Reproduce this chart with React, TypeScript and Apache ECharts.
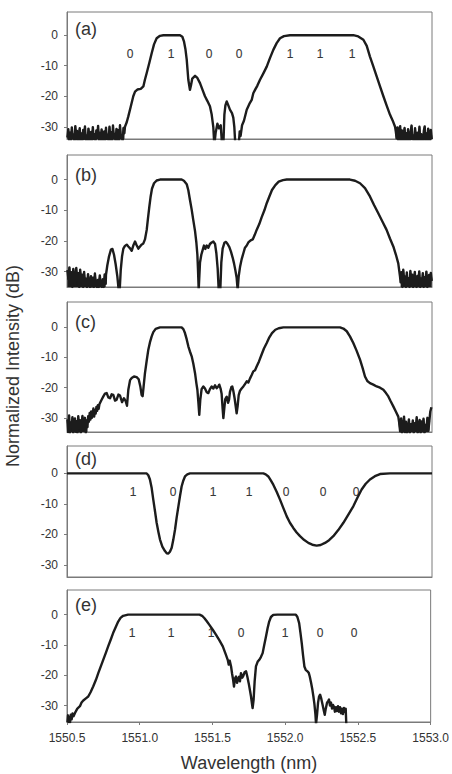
import React, { useEffect, useRef } from "react";
import * as echarts from "echarts";

// Wavelength axis (nm) and intensity tick values (dB)
const WL_MIN = 1550.5;
const WL_MAX = 1553.0;
const xTickValues = [1550.5, 1551.0, 1551.5, 1552.0, 1552.5, 1553.0];
const yTickValues = [0, -10, -20, -30];
const BIT_LEVEL = -6;

type Pt = [number, number];
type Noise = { from: number; to: number; values: number[] };

// ---------- (a) ----------
const aNoiseLeft: Noise = {
  from: 1550.503, to: 1550.893,
  values: [-33.5, -30.8, -34.6, -31.9, -35, -30.2, -33.8, -32.5, -35, -29.8, -34.2, -31.4, -35, -33, -30.5, -34.8, -32.2, -35, -31, -33.9, -29.9, -34.5, -32.8, -35, -30.6, -33.2, -34.9, -31.7, -35, -30.1, -34, -32.4, -35, -31.2, -33.6, -29.7, -34.7, -32, -35, -30.9, -33.4, -34.8, -31.5, -35, -30.3, -33.9, -32.6, -35, -30, -34.3, -31.8, -35, -29.6, -33.7, -32.3, -35, -30.7, -34.4, -31.1, -35, -29.5, -33.5, -32.7, -35, -30.4, -32.1],
};
const aTrace: Pt[] = [
  [1550.897, -30], [1550.909, -28.5], [1550.92, -26.6], [1550.936, -23.5], [1550.954, -20], [1550.966, -18.5],
  [1550.982, -17.8], [1551.005, -17.6], [1551.023, -16.8], [1551.034, -14.5], [1551.046, -12.4], [1551.064, -9],
  [1551.08, -5.9], [1551.096, -3], [1551.114, -1], [1551.137, -0.2], [1551.16, 0], [1551.274, 0], [1551.29, -0.5],
  [1551.301, -2], [1551.311, -4.5], [1551.32, -8], [1551.331, -14.6], [1551.342, -17.9], [1551.349, -16.5],
  [1551.358, -14.2], [1551.377, -13.3], [1551.393, -14], [1551.411, -15.7], [1551.429, -18], [1551.445, -20],
  [1551.461, -21.5], [1551.479, -23.3], [1551.491, -26], [1551.502, -30], [1551.509, -36], [1551.518, -32],
  [1551.53, -29], [1551.541, -30.5], [1551.553, -29.5], [1551.562, -36], [1551.571, -36], [1551.578, -26],
  [1551.585, -23], [1551.594, -21.7], [1551.605, -23], [1551.616, -24.4], [1551.63, -25.5], [1551.639, -27],
  [1551.646, -30], [1551.653, -36], [1551.676, -36], [1551.683, -31.5], [1551.689, -33], [1551.699, -29.5],
  [1551.712, -28], [1551.731, -24.4], [1551.749, -22.5], [1551.765, -21.2], [1551.776, -19], [1551.788, -17.9],
  [1551.804, -16.5], [1551.822, -14.6], [1551.845, -12.5], [1551.868, -10.3], [1551.89, -7.5], [1551.913, -4.8],
  [1551.936, -2.6], [1551.959, -1], [1551.986, -0.3], [1552.027, 0], [1552.461, 0], [1552.495, -0.4],
  [1552.53, -1.5], [1552.553, -3.5], [1552.575, -7], [1552.598, -10.2], [1552.621, -13.5], [1552.644, -16.8],
  [1552.667, -20], [1552.689, -23], [1552.712, -26], [1552.731, -28], [1552.747, -30],
];
const aNoiseRight: Noise = {
  from: 1552.752, to: 1552.998,
  values: [-31.5, -33.8, -30.2, -35, -32.5, -29.8, -34.6, -31.2, -35, -33, -30.4, -34.9, -32.1, -35, -30.8, -33.7, -35, -31.6, -29.6, -34.2, -32.8, -35, -30.5, -33.3, -35, -31.9, -34.5, -30, -35, -32.4, -33.9, -35, -31.3, -29.9, -34.7, -32.2, -35, -30.6, -33.5, -35, -31, -34],
};
const aBits = ["0", "1", "0", "0", "1", "1", "1"];
const aBitWl = [1550.93, 1551.21, 1551.47, 1551.68, 1552.03, 1552.23, 1552.45];

// ---------- (b) ----------
const bNoiseLeft: Noise = {
  from: 1550.503, to: 1550.765,
  values: [-29.5, -32.4, -28.6, -33.8, -30.2, -35, -29.1, -31.7, -34.5, -28.8, -32.9, -30.5, -35, -29.4, -33.2, -31, -35, -30.1, -34.1, -32.3, -35, -30.8, -33.6, -35, -31.5, -34.8, -32, -35, -30.6, -33.9, -35, -32.7, -35, -31.2, -34.4, -35, -32.5, -35, -30.9, -34],
};
const bTrace: Pt[] = [
  [1550.767, -31], [1550.776, -28], [1550.788, -25], [1550.801, -22.8], [1550.811, -22.6], [1550.822, -24.5],
  [1550.833, -27.5], [1550.845, -31.6], [1550.854, -36], [1550.861, -36], [1550.868, -29.5], [1550.877, -25],
  [1550.886, -22.5], [1550.897, -21.6], [1550.909, -21.2], [1550.92, -21.8], [1550.932, -22.4], [1550.943, -23.2],
  [1550.954, -21.5], [1550.966, -20.2], [1550.977, -21.4], [1550.989, -22.5], [1551.0, -21.8], [1551.011, -21.2],
  [1551.023, -20.8], [1551.034, -19.5], [1551.046, -16.4], [1551.055, -12.5], [1551.064, -8.8], [1551.073, -5.5],
  [1551.082, -3], [1551.096, -1.2], [1551.114, -0.3], [1551.137, 0], [1551.285, 0], [1551.301, -0.4],
  [1551.32, -1.5], [1551.331, -3.5], [1551.342, -6.6], [1551.354, -9.8], [1551.365, -13.2], [1551.377, -16.8],
  [1551.386, -20.5], [1551.393, -24.5], [1551.397, -29], [1551.402, -36], [1551.406, -36], [1551.411, -27],
  [1551.42, -24.5], [1551.429, -23], [1551.438, -21.5], [1551.447, -22.6], [1551.457, -21.5], [1551.468, -22.2],
  [1551.479, -21], [1551.491, -20.5], [1551.502, -20.2], [1551.514, -21], [1551.523, -24], [1551.532, -29],
  [1551.539, -36], [1551.55, -36], [1551.557, -27], [1551.566, -22.5], [1551.578, -20.6], [1551.589, -20.3],
  [1551.6, -21], [1551.612, -22], [1551.623, -23.5], [1551.635, -25.5], [1551.644, -27.3], [1551.653, -29.5],
  [1551.662, -32], [1551.669, -36], [1551.676, -31.5], [1551.685, -28.5], [1551.696, -26], [1551.708, -24],
  [1551.719, -22.2], [1551.731, -21.5], [1551.742, -20.5], [1551.758, -19.8], [1551.772, -19.5], [1551.786, -18],
  [1551.799, -16.4], [1551.817, -14.5], [1551.833, -12.3], [1551.852, -10], [1551.868, -7.7], [1551.886, -5.5],
  [1551.904, -3.4], [1551.927, -1.8], [1551.95, -0.7], [1551.979, -0.2], [1552.005, 0], [1552.438, 0],
  [1552.473, -0.4], [1552.507, -1.2], [1552.541, -2.8], [1552.575, -5.5], [1552.603, -8.3], [1552.632, -11],
  [1552.662, -13.8], [1552.689, -16.4], [1552.712, -19.2], [1552.735, -21.8], [1552.753, -24.5], [1552.769, -27.3],
  [1552.781, -31.6],
];
const bNoiseRight: Noise = {
  from: 1552.785, to: 1552.998,
  values: [-33.5, -30.2, -35, -29.4, -33.1, -31.6, -35, -30.3, -34.2, -32.1, -35, -29.8, -33.7, -31, -35, -32.6, -30.1, -34.5, -35, -31.4, -33.2, -29.9, -35, -32.3, -34, -30.5, -35, -31.8, -33.6, -30, -35, -32.9, -31.1, -34.3, -30.4, -33],
};

// ---------- (c) ----------
const cNoiseLeft: Noise = {
  from: 1550.503, to: 1550.64,
  values: [-30.5, -34.8, -29.2, -35, -31.6, -33.2, -29.8, -35, -32.5, -30.2, -34.6, -31.1, -35, -29.5, -33.4, -30.8, -35, -31.9, -29.4, -34, -32.2, -30, -35, -30.9, -33.1],
};
const cNoiseRise: Noise = {
  from: 1550.645, to: 1550.722,
  values: [-29.5, -31.3, -28.4, -30.6, -27.9, -30, -28.8, -26.9, -29.6, -27.5, -28.6, -26.4, -27.7, -25.8, -27, -25.5],
};
const cTrace: Pt[] = [
  [1550.726, -25.1], [1550.737, -24], [1550.749, -22.9], [1550.76, -22], [1550.772, -21.8], [1550.783, -23.2],
  [1550.795, -23.5], [1550.806, -22.2], [1550.817, -22.4], [1550.829, -24.3], [1550.84, -24], [1550.852, -22.3],
  [1550.863, -22.6], [1550.877, -24.8], [1550.89, -23.5], [1550.902, -24.5], [1550.911, -26], [1550.92, -20.7],
  [1550.932, -17.5], [1550.943, -16.8], [1550.959, -16.3], [1550.977, -16.5], [1550.991, -17.2], [1551.002, -19.5],
  [1551.011, -22.4], [1551.018, -22.8], [1551.025, -19.5], [1551.034, -15.2], [1551.046, -11], [1551.057, -7.4],
  [1551.068, -5], [1551.08, -3], [1551.091, -1.6], [1551.107, -0.5], [1551.137, 0], [1551.285, 0],
  [1551.297, -0.6], [1551.308, -1.9], [1551.32, -4], [1551.331, -6.3], [1551.342, -8], [1551.354, -9.6],
  [1551.365, -12], [1551.377, -15.2], [1551.386, -18.5], [1551.393, -20.7], [1551.4, -25], [1551.406, -29],
  [1551.413, -24], [1551.422, -20.5], [1551.434, -19.6], [1551.445, -20.3], [1551.457, -21.5], [1551.468, -21.8],
  [1551.479, -20.5], [1551.491, -19.6], [1551.502, -20.3], [1551.514, -19.2], [1551.525, -20.2], [1551.537, -19.5],
  [1551.543, -19], [1551.553, -20.5], [1551.559, -22], [1551.566, -27], [1551.571, -30.1], [1551.578, -26.5],
  [1551.584, -23.8], [1551.594, -23], [1551.603, -25], [1551.61, -24], [1551.616, -21.5], [1551.626, -19.8],
  [1551.632, -19.6], [1551.639, -21], [1551.648, -23.5], [1551.655, -26], [1551.662, -28.5], [1551.669, -26],
  [1551.676, -22.5], [1551.685, -21], [1551.696, -20.3], [1551.708, -19.6], [1551.719, -18.8], [1551.731, -17.9],
  [1551.742, -18.3], [1551.753, -17], [1551.765, -15.8], [1551.776, -14.6], [1551.788, -14.2], [1551.799, -13],
  [1551.815, -11.3], [1551.833, -9], [1551.849, -7], [1551.868, -5.2], [1551.886, -3.3], [1551.904, -1.9],
  [1551.927, -0.8], [1551.95, -0.3], [1551.982, 0], [1552.37, 0], [1552.393, -0.4], [1552.416, -1.3],
  [1552.438, -3], [1552.461, -5.2], [1552.484, -7.8], [1552.507, -10.7], [1552.525, -13.5], [1552.541, -16.3],
  [1552.557, -17.8], [1552.575, -18.5], [1552.598, -19], [1552.621, -19.6], [1552.644, -20], [1552.667, -20.7],
  [1552.685, -21.8], [1552.701, -22.9], [1552.717, -24.5], [1552.735, -26.2], [1552.753, -28], [1552.769, -29.6],
];
const cNoiseRight: Noise = {
  from: 1552.775, to: 1552.982,
  values: [-31.5, -34.5, -30.2, -35, -32.8, -29.6, -34.9, -31.3, -35, -33.5, -30.5, -35, -32.1, -34.2, -30.9, -35, -31.8, -33.9, -29.8, -35, -32.6, -30.7, -35, -31.2, -34.4, -30.3, -35, -32.4, -33.3, -30, -34.1, -31],
};
const cTail: Pt[] = [[1552.988, -28], [1552.996, -26.5]];

// ---------- (d) ----------
const dTrace: Pt[] = [
  [1550.5, 0], [1551.046, 0], [1551.057, -0.6], [1551.068, -2], [1551.08, -4.8], [1551.091, -8.6],
  [1551.103, -12.5], [1551.114, -16.2], [1551.126, -19.2], [1551.137, -21.7], [1551.153, -24], [1551.171, -25.5],
  [1551.183, -26.2], [1551.194, -26.3], [1551.205, -25.7], [1551.217, -24.4], [1551.228, -21.8], [1551.24, -18.4],
  [1551.251, -14.5], [1551.263, -10.8], [1551.274, -7.4], [1551.285, -4.3], [1551.297, -2.3], [1551.308, -1],
  [1551.324, -0.3], [1551.342, 0], [1551.845, 0], [1551.861, -0.3], [1551.879, -1], [1551.895, -2.2],
  [1551.913, -3.7], [1551.936, -6], [1551.959, -8.6], [1551.982, -11.4], [1552.005, -14.1], [1552.027, -16.2],
  [1552.05, -17.9], [1552.073, -19.4], [1552.096, -20.6], [1552.123, -21.8], [1552.153, -22.8], [1552.18, -23.4],
  [1552.21, -23.7], [1552.237, -23.5], [1552.267, -22.8], [1552.295, -21.9], [1552.324, -20.6], [1552.358, -18.6],
  [1552.393, -16.2], [1552.427, -13.5], [1552.461, -10.8], [1552.489, -8], [1552.518, -5.3], [1552.546, -3.4],
  [1552.575, -2], [1552.609, -0.9], [1552.644, -0.2], [1552.712, 0], [1553.0, 0],
];
const dBits = ["1", "0", "1", "1", "0", "0", "0"];
const dBitWl = [1550.95, 1551.224, 1551.497, 1551.745, 1552.003, 1552.25, 1552.479];

// ---------- (e) ----------
const eTrace: Pt[] = [
  [1550.503, -35.5], [1550.507, -33.2], [1550.511, -35.5], [1550.516, -33.8], [1550.521, -35.5], [1550.526, -33],
  [1550.532, -34.5], [1550.538, -32.6], [1550.545, -33.5], [1550.555, -32.4], [1550.571, -31], [1550.589, -30.2],
  [1550.6, -29], [1550.612, -28.3], [1550.63, -27.6], [1550.646, -27], [1550.662, -25.6], [1550.68, -23.7],
  [1550.699, -21.5], [1550.715, -19.3], [1550.733, -17], [1550.749, -14.9], [1550.767, -12.6], [1550.783, -10.5],
  [1550.801, -8.2], [1550.817, -6.1], [1550.836, -4], [1550.852, -2.3], [1550.868, -1.1], [1550.886, -0.4],
  [1550.92, 0], [1551.411, 0], [1551.429, -0.4], [1551.445, -1.2], [1551.461, -2.2], [1551.479, -3.4],
  [1551.502, -5], [1551.525, -6.7], [1551.548, -8.5], [1551.571, -10.5], [1551.589, -12.8], [1551.605, -14.9],
  [1551.612, -16.5], [1551.619, -15.2], [1551.628, -17.1], [1551.635, -19.5], [1551.642, -21.5], [1551.648, -23.7],
  [1551.655, -21], [1551.662, -20.4], [1551.669, -22.5], [1551.676, -21.2], [1551.683, -20.5], [1551.689, -22],
  [1551.696, -19.3], [1551.705, -20.8], [1551.712, -20.2], [1551.721, -19], [1551.731, -18.7], [1551.74, -20.5],
  [1551.749, -22.6], [1551.758, -25], [1551.765, -27], [1551.772, -29.5], [1551.776, -30.8], [1551.783, -28],
  [1551.79, -22], [1551.799, -17.1], [1551.811, -15.5], [1551.822, -14.9], [1551.833, -14], [1551.845, -12.7],
  [1551.856, -10], [1551.868, -7.2], [1551.879, -4.5], [1551.89, -2.3], [1551.902, -0.8], [1551.918, -0.1],
  [1551.947, 0], [1552.073, 0], [1552.084, -0.8], [1552.096, -2.8], [1552.105, -6], [1552.114, -9.5],
  [1552.123, -13.5], [1552.132, -17.1], [1552.141, -18.2], [1552.153, -18.7], [1552.162, -19.2], [1552.169, -20.4],
  [1552.178, -22.5], [1552.187, -24.8], [1552.194, -27], [1552.201, -29.5], [1552.208, -33], [1552.212, -36],
  [1552.219, -33], [1552.226, -29], [1552.233, -27], [1552.24, -26.4], [1552.247, -27.5], [1552.256, -29.5],
  [1552.265, -31.5], [1552.272, -33], [1552.279, -31], [1552.288, -29], [1552.295, -28.5], [1552.301, -28],
  [1552.308, -30], [1552.315, -29], [1552.322, -31], [1552.329, -29.8], [1552.336, -30.5], [1552.342, -32],
  [1552.349, -30.5], [1552.356, -31.8], [1552.363, -30.2], [1552.37, -32], [1552.377, -30.5], [1552.384, -32.5],
  [1552.39, -31], [1552.397, -32.8], [1552.404, -30.8], [1552.411, -32], [1552.416, -31], [1552.42, -36],
];
const eBits = ["1", "1", "1", "0", "1", "0", "0"];
const eBitWl = [1550.946, 1551.217, 1551.488, 1551.697, 1551.996, 1552.242, 1552.472];

// Evenly spaced samples of a recorded noise floor
function samples(n: Noise): Pt[] {
  const k = n.values.length - 1;
  return n.values.map((v, i) => [n.from + ((n.to - n.from) * i) / k, v] as Pt);
}

const panelData = [
  { tag: "(a)", floor: [aNoiseLeft, aNoiseRight], line: [...samples(aNoiseLeft), ...aTrace, ...samples(aNoiseRight)], bits: aBits, bitWl: aBitWl },
  { tag: "(b)", floor: [bNoiseLeft, bNoiseRight], line: [...samples(bNoiseLeft), ...bTrace, ...samples(bNoiseRight)], bits: [] as string[], bitWl: [] as number[] },
  { tag: "(c)", floor: [cNoiseLeft, cNoiseRight], line: [...samples(cNoiseLeft), ...samples(cNoiseRise), ...cTrace, ...samples(cNoiseRight), ...cTail], bits: [] as string[], bitWl: [] as number[] },
  { tag: "(d)", floor: [] as Noise[], line: dTrace, bits: dBits, bitWl: dBitWl },
  { tag: "(e)", floor: [] as Noise[], line: eTrace, bits: eBits, bitWl: eBitWl },
];

// Panel placement (px) and visible dB window
const layout = [
  { top: 12, height: 127, yMin: -34, yMax: 7.6, tagY: 29.5 },
  { top: 155, height: 132, yMin: -35, yMax: 8, tagY: 176 },
  { top: 302, height: 130, yMin: -34.7, yMax: 8.4, tagY: 322.5 },
  { top: 446, height: 131, yMin: -34, yMax: 9, tagY: 459.5 },
  { top: 590, height: 132, yMin: -35.4, yMax: 8.1, tagY: 606 },
];

const FONT = "'Liberation Sans', Arial, Helvetica, sans-serif";
const FRAME = "#7a7a7a";
const INK = "#1c1c1c";
const TEXT = "#333333";
const LINE_W = 2.4;

export default function App() {
  const ref = useRef<HTMLDivElement>(null);

  useEffect(() => {
    if (!ref.current) return;
    const chart = echarts.init(ref.current, undefined, { renderer: "svg" });
    const last = panelData.length - 1;

    const grid = layout.map((l) => ({
      left: 67, right: 20, top: l.top, height: l.height,
      show: true, borderColor: FRAME, borderWidth: 1, backgroundColor: "transparent",
    }));

    const xAxis = layout.map((_, i) => ({
      type: "value" as const, gridIndex: i, min: WL_MIN, max: WL_MAX,
      axisLine: { show: true, onZero: false, lineStyle: { color: FRAME } },
      splitLine: { show: false },
      axisTick: { show: i === last, customValues: xTickValues, length: 3, lineStyle: { color: FRAME } },
      axisLabel: {
        show: i === last, customValues: xTickValues, margin: 10,
        color: TEXT, fontSize: 12, fontFamily: FONT,
        formatter: (v: number) => v.toFixed(1),
      },
    }));

    const yAxis = layout.map((l, i) => ({
      type: "value" as const, gridIndex: i, min: l.yMin, max: l.yMax,
      axisLine: { show: true, onZero: false, lineStyle: { color: FRAME } },
      splitLine: { show: false },
      axisTick: { show: true, customValues: yTickValues, length: 3, lineStyle: { color: FRAME } },
      axisLabel: {
        show: true, customValues: yTickValues, margin: 9,
        color: TEXT, fontSize: 12, fontFamily: FONT,
      },
    }));

    const series: any[] = [];
    panelData.forEach((p, i) => {
      // noise floor drawn as a dense band down to the bottom of the panel
      p.floor.forEach((n) => {
        series.push({
          type: "line", xAxisIndex: i, yAxisIndex: i, data: samples(n),
          showSymbol: false, symbol: "none", clip: true, silent: true,
          lineStyle: { color: INK, width: 1.5 },
          areaStyle: { color: INK, opacity: 1, origin: "start" },
        });
      });
      series.push({
        type: "line", xAxisIndex: i, yAxisIndex: i, data: p.line,
        showSymbol: false, symbol: "none", clip: true, silent: true,
        lineStyle: { color: INK, width: LINE_W, join: "round" },
      });
    });

    const graphic: any[] = layout.map((l, i) => ({
      type: "text", left: 75, top: l.tagY - 10,
      style: { text: panelData[i].tag, font: `18px ${FONT}`, fill: TEXT },
    }));
    graphic.push({
      type: "text", x: 249, y: 763,
      style: { text: "Wavelength (nm)", font: `18px ${FONT}`, fill: TEXT, align: "center", verticalAlign: "middle" },
    });
    graphic.push({
      type: "text", x: 13, y: 366, rotation: Math.PI / 2,
      style: { text: "Normalized Intensity (dB)", font: `18px ${FONT}`, fill: TEXT, align: "center", verticalAlign: "middle" },
    });

    chart.setOption({
      animation: false,
      backgroundColor: "#ffffff",
      grid, xAxis, yAxis, series, graphic,
    });

    // bit annotations placed through each panel's own axes
    const bitTexts: any[] = [];
    panelData.forEach((p, i) => {
      p.bitWl.forEach((w, k) => {
        const px = chart.convertToPixel({ gridIndex: i } as any, [w, BIT_LEVEL]) as number[];
        bitTexts.push({
          type: "text", x: Math.round(px[0]), y: Math.round(px[1]),
          style: {
            text: p.bits[k], font: `12px ${FONT}`, fill: TEXT, opacity: 0.99,
            stroke: TEXT, lineWidth: 0.2, align: "center", verticalAlign: "middle",
          },
        });
      });
    });
    chart.setOption({ graphic: [...graphic, ...bitTexts] });

    return () => chart.dispose();
  }, []);

  return (
    <div
      ref={ref}
      style={{ position: "absolute", left: 0, top: 0, width: 452, height: 774 }}
    />
  );
}
